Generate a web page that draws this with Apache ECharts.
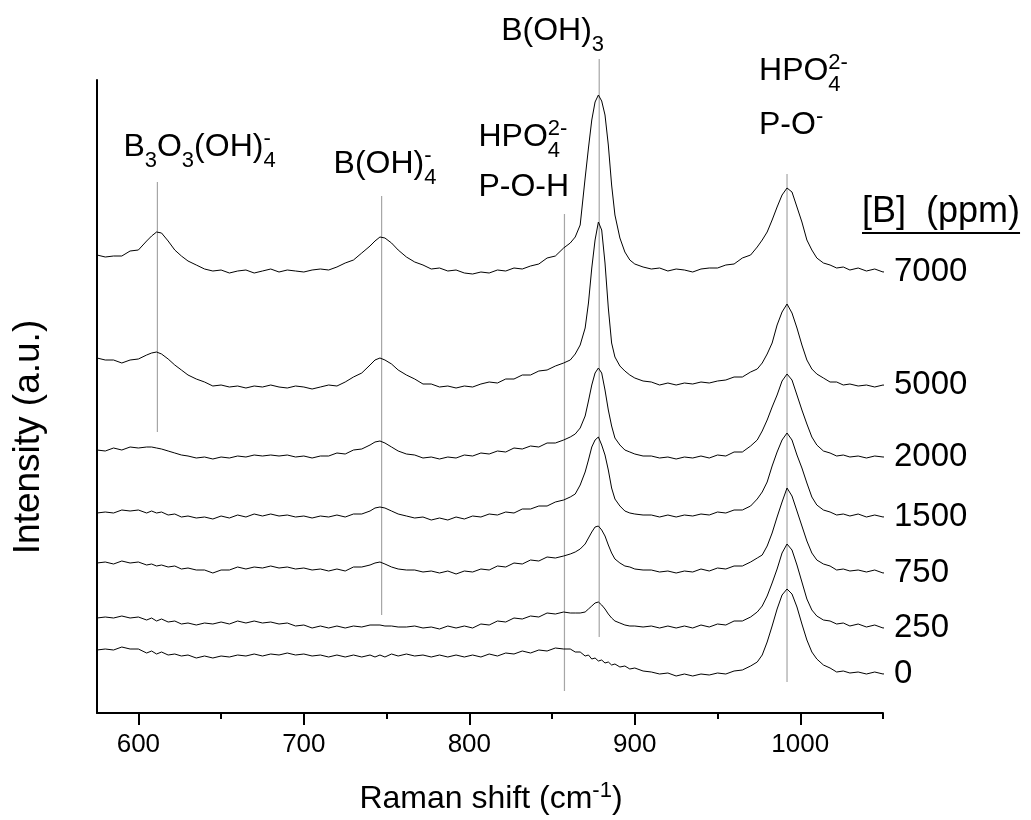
<!DOCTYPE html>
<html><head><meta charset="utf-8">
<script src="https://cdn.jsdelivr.net/npm/echarts@6/dist/echarts.min.js"></script>
<style>html,body{margin:0;padding:0;background:#fff}#c{width:1031px;height:820px}</style>
</head><body><div id="c"></div>
<script>
// ---------------- data ----------------
const ramanShift = [575,580,585,590,595,600,605,608,611,614,618,622,626,630,635,640,645,650,655,660,665,670,675,680,685,690,695,700,705,710,715,720,725,730,735,740,743,746,749,753,757,762,767,772,777,782,787,792,797,802,807,812,817,822,827,832,837,842,847,852,857,861,864,867,870,872,874,876,878,880,882,884,886,888,891,894,897,900,905,910,915,920,925,930,935,940,945,950,955,960,965,970,974,977,980,983,986,989,992,995,998,1001,1004,1007,1010,1014,1018,1022,1026,1030,1035,1040,1045,1050,1054];

const s7000 = [458,456,457,457,462,463,472, 477,481,480,472,463,457,452,
 448,444,442,443,440,442,443,440,442,444,441,443,442,441,443,444,443,446,450,453,460,467,
 472,476,475,470,463,
 456,451,448,444,445,442,443,440,439,441,440,443,442,445,444,447,449,455,457,465,
 470,476,488,535,565,593,611,618,612,598,568,528,498,475,461,453,449,
 446,444,445,442,444,443,441,444,445,445,448,449,455,458,
 466,473,481,493,506,518,525,521,506,491,473,463,455,
 450,448,445,446,443, 445,442,444,441,442];
const s5000 = [355,353,353,350,353,354,358, 360,361,359,354,348,343,338,
 334,331,327,328,326,327,325,327,326,328,326,325,327,326,324,326,328,327,331,336,340,348,
 353,355,353,349,343,
 338,334,329,329,326,327,325,327,326,329,331,330,334,334,338,338,342,343,347,350,
 353,359,368,385,410,445,473,491,483,450,405,370,356,347,342,338,335,
 332,331,328,330,328,330,329,331,330,332,333,336,336,341,
 344,350,359,370,388,401,409,400,385,368,353,344,339,
 335,331,331,328,329, 327,328,326,328,327];
const s2000 = [263,262,265,263,266,265,266, 266,265,264,262,260,258,257,
 255,256,254,256,255,257,256,258,257,258,257,258,256,257,255,257,257,260,259,263,264,268,
 271,272,270,266,262,
 259,258,255,256,254,256,255,258,257,260,259,262,261,265,264,267,266,270,270,273,
 276,279,285,297,312,328,340,345,340,323,303,287,275,268,263,261,259,
 257,257,255,256,254,256,255,257,255,258,257,261,261,267,
 273,282,293,306,318,332,339,333,318,303,289,276,268,
 262,260,257,258,256, 257,255,257,256,256];
const s1500 = [200,201,200,203,202,203,200, 202,200,201,198,199,196,197,
 195,196,194,197,195,198,196,199,197,199,197,198,196,197,195,197,196,198,196,199,199,202,
 205,206,205,202,199,
 197,195,196,193,195,193,196,194,197,196,199,198,201,200,204,204,207,207,211,213,
 216,219,228,241,253,266,273,276,268,258,243,225,214,207,202,200,199,
 198,198,196,198,196,198,197,199,198,201,200,203,203,207,
 214,221,231,247,261,273,280,273,258,245,230,216,208,
 203,201,198,199,197, 199,196,198,196,197];
const s750 = [150,151,149,152,150,151,148, 149,147,148,146,147,144,145,
 143,143,140,143,143,146,144,146,145,147,145,146,144,145,143,144,142,144,142,146,146,148,
 150,151,149,146,144,
 143,143,141,142,140,142,139,142,141,144,143,147,146,150,149,153,152,156,155,157,
 159,161,164,169,175,181,186,187,183,177,168,160,154,150,147,146,144,
 143,143,141,142,140,142,141,144,142,145,144,147,147,151,
 155,158,167,180,196,211,225,217,202,187,172,160,153,
 149,147,143,144,142, 143,141,143,140,141];
const s250 = [95,96,95,97,95,96,93, 95,92,94,91,92,89,90,
 88,90,89,91,89,92,90,92,90,91,89,90,87,88,85,87,85,87,85,87,86,88,
 88,88,87,87,86,
 86,87,85,86,84,87,85,87,85,89,88,92,91,95,94,97,96,100,99,101,
 100,100,100,101,104,107,110,111,108,104,99,95,92,90,88,87,87,
 86,87,85,87,85,87,85,88,86,89,88,92,92,96,
 101,107,117,130,144,160,169,163,148,131,114,103,97,
 93,92,89,90,87, 89,86,88,85,86];
const s0 = [63,64,63,66,64,64,60, 62,59,61,58,59,57,58,
 55,57,55,57,56,58,57,59,57,59,58,60,58,59,57,58,56,58,56,58,56,58,
 56,58,56,59,57,
 59,57,58,56,58,56,58,56,58,56,59,57,60,59,62,60,63,62,65,64,
 64,61,61,57,58,54,55,52,53,50,51,48,49,46,47,44,45,
 42,41,39,40,37,39,37,39,38,40,39,42,43,47,
 51,58,71,87,104,118,124,119,106,89,73,61,54,
 48,45,41,42,40, 41,39,41,39,40];

const concentrations = ['7000','5000','2000','1500','750','250','0'];
const xTicks = [600,700,800,900,1000];
const xMinorTicks = [650,750,850,950,1050];

const refPositions = [611.5, 747, 857.5, 878.5, 992];
const refLow  = [281, 98, 22, 76, 31];
const refHigh = [531, 517, 499, 654, 539];
const refLabels = [
  ['B_{3}O_{3}(OH)^{-}_{4}'],
  ['B(OH)^{-}_{4}'],
  ['HPO^{2-}_{4}', 'P-O-H'],
  ['B(OH)_{3}'],
  ['HPO^{2-}_{4}', 'P-O^{-}']
];
const xTitle = 'Raman shift (cm^{-1})';
const yTitle = 'Intensity (a.u.)';
const legendTitle = '[B]  (ppm)';

// ---------------- layout / style ----------------
const FONT = '"Liberation Sans", Arial, sans-serif';
const MAIN = 32, SMALL = 22;
// label placement relative to the top end of each reference line: [dx, [dy per line]]
const labelPlace = [[-34, [-24]], [-48, [-21]], [-86, [-66, -16]], [-98, [-17]], [-28, [-92, -38]]];

const chart = echarts.init(document.getElementById('c'), null, {renderer: 'canvas', width: 1031, height: 820});
const spectra = [s7000, s5000, s2000, s1500, s750, s250, s0];

const series = spectra.map((arr, i) => ({
  name: concentrations[i], type: 'line',
  data: ramanShift.map((x, j) => [x, arr[j]]),
  symbol: 'none', showSymbol: false, clip: false, silent: true, animation: false, z: 3,
  lineStyle: {color: '#000', width: 1},
  endLabel: {show: true, formatter: p => p.seriesName, fontSize: 33, fontFamily: FONT, color: '#000', distance: 10}
}));
refPositions.forEach((x, i) => series.push({
  type: 'line', data: [[x, refLow[i]], [x, refHigh[i]]],
  symbol: 'none', showSymbol: false, clip: false, silent: true, animation: false, z: 2,
  lineStyle: {color: '#a6a6a6', width: 1.2}
}));

chart.setOption({
  animation: false,
  backgroundColor: '#fff',
  grid: {left: 97, right: 148, top: 80, bottom: 107, containLabel: false, outerBoundsMode: 'none'},
  xAxis: [{
    type: 'value', min: 575, max: 1050, position: 'bottom',
    axisLine: {show: true, onZero: false, lineStyle: {color: '#000', width: 2}},
    axisTick: {show: true, inside: false, length: 12, customValues: xTicks, lineStyle: {color: '#000', width: 2}},
    axisLabel: {show: true, customValues: xTicks, formatter: v => String(v), fontSize: 26, fontFamily: FONT, color: '#000', margin: 19},
    splitLine: {show: false}
  }, {
    type: 'value', min: 575, max: 1050, position: 'bottom', gridIndex: 0,
    axisLine: {show: false},
    axisTick: {show: true, inside: false, length: 6, customValues: xMinorTicks, lineStyle: {color: '#000', width: 2}},
    axisLabel: {show: false}, splitLine: {show: false}
  }],
  yAxis: {
    type: 'value', min: 0, max: 633,
    axisLine: {show: true, onZero: false, lineStyle: {color: '#000', width: 2}},
    axisTick: {show: false}, axisLabel: {show: false}, splitLine: {show: false}
  },
  series: series
});

// ---------- text with sub/superscripts ----------
const ctx = document.createElement('canvas').getContext('2d');
function measure(t, size) { ctx.font = size + 'px ' + FONT; return ctx.measureText(t).width; }
function tokens(s) {
  return s.split(/(\^\{[^}]*\}|_\{[^}]*\})/).filter(t => t.length).map(t => {
    if (t[0] === '^') return {t: t.slice(2, -1), k: 'sup'};
    if (t[0] === '_') return {t: t.slice(2, -1), k: 'sub'};
    return {t: t, k: 'n'};
  });
}
function textEl(t, x, baseline, size) {
  return {type: 'text', x: x, y: baseline - 0.3465 * size, silent: true, z: 10,
    style: {text: t, fontSize: size, fontFamily: FONT, fill: '#000', align: 'left', verticalAlign: 'middle', textAlign: 'left', textVerticalAlign: 'middle'}};
}
function richWidth(s) {
  const tk = tokens(s); let w = 0;
  for (let i = 0; i < tk.length; i++) {
    const a = tk[i], b = tk[i + 1];
    if (a.k !== 'n' && b && b.k !== 'n' && b.k !== a.k) { w += Math.max(measure(a.t, SMALL), measure(b.t, SMALL)); i++; }
    else w += measure(a.t, a.k === 'n' ? MAIN : SMALL);
  }
  return w;
}
function richText(s, left, baseline) {
  const tk = tokens(s); const out = []; let x = left;
  const off = {n: 0, sub: 11, sup: -11};
  for (let i = 0; i < tk.length; i++) {
    const a = tk[i], b = tk[i + 1];
    if (a.k !== 'n' && b && b.k !== 'n' && b.k !== a.k) {
      out.push(textEl(a.t, x, baseline + off[a.k], SMALL));
      out.push(textEl(b.t, x, baseline + off[b.k], SMALL));
      x += Math.max(measure(a.t, SMALL), measure(b.t, SMALL)); i++;
    } else {
      const sz = a.k === 'n' ? MAIN : SMALL;
      out.push(textEl(a.t, x, baseline + off[a.k], sz));
      x += measure(a.t, sz);
    }
  }
  return out;
}

const els = [];
refPositions.forEach((x, i) => {
  const p = chart.convertToPixel({gridIndex: 0}, [x, refHigh[i]]);
  const [dx, dys] = labelPlace[i];
  refLabels[i].forEach((ln, j) => els.push(...richText(ln, p[0] + dx, p[1] + dys[j])));
});
// x axis title (centred under the plot)
const xw = richWidth(xTitle);
els.push(...richText(xTitle, 491 - xw / 2, 810));
// y axis title
els.push({type: 'text', x: 29, y: 437, rotation: Math.PI / 2, silent: true,
  style: {text: yTitle, fontSize: 37, fontFamily: FONT, fill: '#000', align: 'center', verticalAlign: 'middle', textAlign: 'center', textVerticalAlign: 'middle'}});
// legend title with underline
const LG = 36;
els.push(textEl(legendTitle, 862, 225, LG));
ctx.font = LG + 'px ' + FONT;
const lw = ctx.measureText(legendTitle).width;
els.push({type: 'line', silent: true, shape: {x1: 862, y1: 233, x2: 862 + lw, y2: 233}, style: {stroke: '#000', lineWidth: 2}});

chart.setOption({graphic: {elements: els}});
</script></body></html>
